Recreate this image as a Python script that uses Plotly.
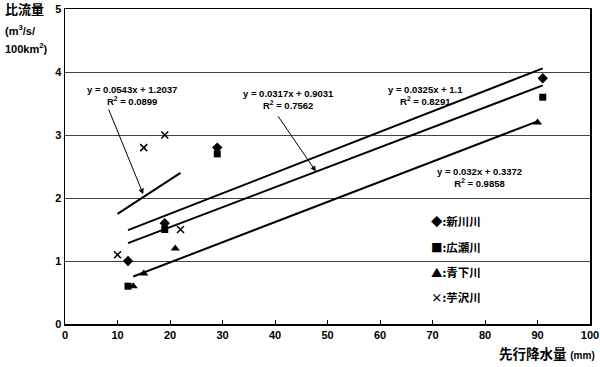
import plotly.graph_objects as go

# ---- data ----
series_names = ["新川川", "広瀬川", "青下川", "芋沢川"]
legend_symbols = ["◆", "■", "▲", "×"]

shinkawa_x = [12, 19, 29, 91]
shinkawa_y = [1.0, 1.6, 2.8, 3.9]

hirose_x = [12, 19, 29, 91]
hirose_y = [0.6, 1.5, 2.7, 3.6]

aoshita_x = [13, 15, 21, 90]
aoshita_y = [0.6, 0.8, 1.2, 3.2]

imozawa_x = [10, 15, 19, 22]
imozawa_y = [1.1, 2.8, 3.0, 1.5]

# trendline coefficients (slope, intercept, R^2) as printed on the chart
trend_slope = [0.0325, 0.0317, 0.032, 0.0543]
trend_intercept = [1.1, 0.9031, 0.3372, 1.2037]
trend_r2 = ["0.8291", "0.7562", "0.9858", "0.0899"]
trend_labels = ["y = 0.0325x + 1.1", "y = 0.0317x + 0.9031",
                "y = 0.032x + 0.3372", "y = 0.0543x + 1.2037"]

x_ticks = [0, 10, 20, 30, 40, 50, 60, 70, 80, 90, 100]
y_ticks = [0, 1, 2, 3, 4, 5]

xs = [shinkawa_x, hirose_x, aoshita_x, imozawa_x]
ys = [shinkawa_y, hirose_y, aoshita_y, imozawa_y]

LAT = "Liberation Sans, Arial, sans-serif"
JP = "Liberation Sans, Noto Sans CJK JP, sans-serif"
CJK = "Noto Sans CJK JP, sans-serif"

fig = go.Figure()

marker_styles = [
    dict(symbol="diamond", size=8, color="black"),
    dict(symbol="square", size=7, color="black"),
    dict(symbol="triangle-up", size=8, color="black"),
    dict(symbol="x-thin", size=7, color="black", line=dict(color="black", width=1.5)),
]

# trendlines
for i in range(4):
    x0, x1 = min(xs[i]), max(xs[i])
    fig.add_trace(go.Scatter(
        x=[x0, x1],
        y=[trend_slope[i] * x0 + trend_intercept[i], trend_slope[i] * x1 + trend_intercept[i]],
        mode="lines", line=dict(color="black", width=2),
        showlegend=False, hoverinfo="skip"))

# data points
for i in range(4):
    fig.add_trace(go.Scatter(
        x=xs[i], y=ys[i], mode="markers", name=series_names[i],
        marker=marker_styles[i], showlegend=False))

annotations = []

# equation labels: (center x, center y) in data coords
eq_pos = [(68.6, 3.63), (42.5, 3.57), (79.0, 2.33), (12.8, 3.63)]
for i in range(4):
    annotations.append(dict(
        x=eq_pos[i][0], y=eq_pos[i][1], xref="x", yref="y",
        text=f"{trend_labels[i]}<br>R<sup>2</sup> = {trend_r2[i]}",
        showarrow=False, align="center",
        font=dict(family=LAT, size=9.5, color="black", weight="bold")))

# arrows from labels to lines
arrows = [((8.2, 3.43), (14.9, 2.06)), ((40.4, 3.32), (47.8, 2.42))]
for (tx, ty), (hx, hy) in arrows:
    annotations.append(dict(
        x=hx, y=hy, ax=tx, ay=ty, xref="x", yref="y", axref="x", ayref="y",
        text="", showarrow=True, arrowhead=2, arrowsize=1.1, arrowwidth=1,
        arrowcolor="black"))

# legend as text
leg_y = [1.63, 1.22, 0.83, 0.43]
for i in range(4):
    annotations.append(dict(
        x=69.3, y=leg_y[i], xref="x", yref="y", xanchor="left", yanchor="middle",
        text=f"{legend_symbols[i]}:{series_names[i]}", showarrow=False,
        font=dict(family=CJK, size=11.5, color="black", weight="bold")))

# y-axis title
annotations.append(dict(
    x=-0.118, y=1.0, xref="paper", yref="paper", xanchor="left", yanchor="middle",
    text="比流量", showarrow=False,
    font=dict(family=JP, size=13, color="black", weight="bold")))
annotations.append(dict(
    x=-0.118, y=(324 - 30) / 315, xref="paper", yref="paper", xanchor="left", yanchor="middle",
    text="(m<sup>3</sup>/s/", showarrow=False,
    font=dict(family=LAT, size=11, color="black", weight="bold")))
annotations.append(dict(
    x=-0.118, y=(324 - 48) / 315, xref="paper", yref="paper", xanchor="left", yanchor="middle",
    text="100km<sup>2</sup>)", showarrow=False,
    font=dict(family=LAT, size=11, color="black", weight="bold")))

# x-axis title
annotations.append(dict(
    x=(597 - 65) / 525, y=(324 - 354) / 315, xref="paper", yref="paper",
    xanchor="right", yanchor="middle",
    text="先行降水量 <span style='font-size:10px'>(mm)</span>", showarrow=False,
    font=dict(family=JP, size=13.5, color="black", weight="bold")))

fig.update_layout(
    width=600, height=367,
    margin=dict(l=65, r=10, t=9, b=43, autoexpand=False),
    paper_bgcolor="white", plot_bgcolor="white",
    showlegend=False,
    annotations=annotations,
    font=dict(family=LAT, color="black"),
)
fig.update_xaxes(
    range=[0, 100], tickvals=x_ticks, ticktext=[str(v) for v in x_ticks],
    ticks="inside", ticklen=4, tickcolor="black", automargin=False,
    showline=True, linecolor="black", linewidth=1.5, mirror=True,
    showgrid=False, zeroline=False,
    tickfont=dict(family=LAT, size=11, color="black", weight="bold"))
fig.update_yaxes(
    range=[0, 5], tickvals=y_ticks, ticktext=[str(v) for v in y_ticks],
    ticks="", automargin=False, showline=True, linecolor="black", linewidth=1.5, mirror=True,
    showgrid=True, gridcolor="#444444", gridwidth=1, zeroline=False,
    tickfont=dict(family=LAT, size=11, color="black", weight="bold"))

fig.write_html(
    "out.html",
    config={"displayModeBar": False, "staticPlot": True},
    post_script="document.body.style.margin='0';document.body.style.padding='0';"
                "document.documentElement.style.overflow='hidden';",
)
